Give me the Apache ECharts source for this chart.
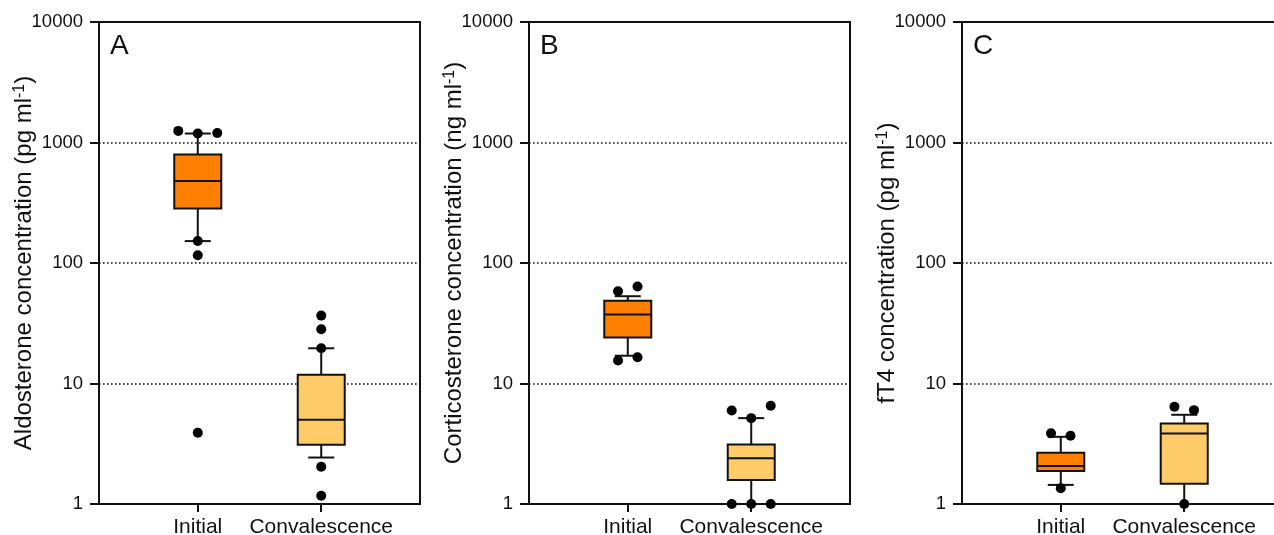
<!DOCTYPE html>
<html>
<head>
<meta charset="utf-8">
<script src="https://cdn.jsdelivr.net/npm/echarts@6/dist/echarts.min.js"></script>
<style>
html,body{margin:0;padding:0;background:#fff;}
#chart{width:1274px;height:535px;}
</style>
</head>
<body>
<div id="chart"></div>
<script>
// ---------- data ----------
const categories = ['Initial', 'Convalescence'];
const panelLetters = ['A', 'B', 'C'];
const yAxisTitles = ['Aldosterone concentration (pg ml', 'Corticosterone concentration (ng ml', 'fT4 concentration (pg ml'];
const yUnitExponent = '-1';
const yTickValues = [1, 10, 100, 1000, 10000];

// box stats: [lower whisker, Q1, median, Q3, upper whisker]
const aldoInitialBox = [152, 283, 479, 794, 1187];
const aldoConvBox = [2.43, 3.1, 5.0, 11.8, 19.6];
const cortInitialBox = [17.0, 24.1, 37.3, 48.5, 53];
const cortConvBox = [1.0, 1.58, 2.4, 3.11, 5.16];
const ft4InitialBox = [1.44, 1.88, 2.07, 2.66, 3.61];
const ft4ConvBox = [1.0, 1.47, 3.84, 4.65, 5.5];

// individual points shown (outside / at whiskers)
const aldoInitialPoints = [1248, 1187, 1200, 152, 116, 3.9];
const aldoConvPoints = [36.6, 28.2, 19.6, 2.04, 1.17];
const cortInitialPoints = [58.3, 63.8, 15.5, 16.5];
const cortConvPoints = [5.97, 5.16, 6.53, 1, 1, 1];
const ft4InitialPoints = [3.87, 3.68, 1.35];
const ft4ConvPoints = [6.41, 6.01, 1];

// ---------- styling ----------
const boxColors = ['#FF8000', '#FDCC69'];
const ink = '#111111';
const FONT = 'Liberation Sans, Arial, Helvetica, sans-serif';
const panelLefts = [99, 529, 962];
const panelWidth = 321;
const gridTop = 22;
const gridHeight = 482;
const BOX_W = 47, CAP_W = 26, DOT = 10, SWARM_STEP = 19.5;

const panels = [
  {boxes: [aldoInitialBox, aldoConvBox], points: [aldoInitialPoints, aldoConvPoints]},
  {boxes: [cortInitialBox, cortConvBox], points: [cortInitialPoints, cortConvPoints]},
  {boxes: [ft4InitialBox, ft4ConvBox], points: [ft4InitialPoints, ft4ConvPoints]}
];

// simple beeswarm: points of one category whose values are close (in log space) are spread sideways
function swarm(values, catPos) {
  const idx = values.map((v, i) => i).sort((a, b) => values[a] - values[b]);
  const groups = [];
  let cur = [];
  idx.forEach(i => {
    if (cur.length && Math.log10(values[i]) - Math.log10(values[cur[cur.length - 1]]) > 0.07) {
      groups.push(cur); cur = [];
    }
    cur.push(i);
  });
  if (cur.length) groups.push(cur);
  const out = [];
  groups.forEach(g => {
    const ordered = g.slice().sort((a, b) => a - b);
    ordered.forEach((i, k) => {
      out.push({value: [catPos, values[i]], symbolOffset: [(k - (ordered.length - 1) / 2) * SWARM_STEP, 0]});
    });
  });
  return out;
}

function renderBox(params, api) {
  const c = api.value(0);
  const lo = api.coord([c, api.value(1)]);
  const q1 = api.coord([c, api.value(2)]);
  const md = api.coord([c, api.value(3)]);
  const q3 = api.coord([c, api.value(4)]);
  const hi = api.coord([c, api.value(5)]);
  const x = lo[0];
  const ls = {stroke: ink, lineWidth: 2};
  return {
    type: 'group',
    children: [
      {type: 'line', shape: {x1: x, y1: hi[1], x2: x, y2: q3[1]}, style: ls},
      {type: 'line', shape: {x1: x, y1: q1[1], x2: x, y2: lo[1]}, style: ls},
      {type: 'line', shape: {x1: x - CAP_W / 2, y1: hi[1], x2: x + CAP_W / 2, y2: hi[1]}, style: ls},
      {type: 'line', shape: {x1: x - CAP_W / 2, y1: lo[1], x2: x + CAP_W / 2, y2: lo[1]}, style: ls},
      {type: 'rect', shape: {x: x - BOX_W / 2, y: q3[1], width: BOX_W, height: q1[1] - q3[1]},
        style: {fill: boxColors[c - 1], stroke: ink, lineWidth: 2}},
      {type: 'line', shape: {x1: x - BOX_W / 2, y1: md[1], x2: x + BOX_W / 2, y2: md[1]}, style: ls}
    ]
  };
}

const grid = [], xAxis = [], yAxis = [], series = [], title = [];
panels.forEach((p, i) => {
  grid.push({left: panelLefts[i], top: gridTop, width: panelWidth, height: gridHeight,
    outerBoundsMode: 'none', containLabel: false,
    show: true, borderColor: ink, borderWidth: 2, backgroundColor: 'transparent'});
  xAxis.push({
    type: 'value', gridIndex: i, min: 0.2, max: 2.8,
    axisLine: {show: true, lineStyle: {color: ink, width: 2}},
    axisTick: {show: true, length: 8, lineStyle: {color: ink, width: 2}, customValues: [1, 2]},
    axisLabel: {show: true, customValues: [1, 2], margin: 13, fontSize: 21, color: ink, fontFamily: FONT,
      formatter: v => categories[Math.round(v) - 1] || ''},
    splitLine: {show: false}
  });
  yAxis.push({
    type: 'log', logBase: 10, gridIndex: i, min: yTickValues[0], max: yTickValues[yTickValues.length - 1],
    name: yAxisTitles[i] + '{sup|' + yUnitExponent + '})',
    nameLocation: 'middle', nameGap: 63, nameMoveOverlap: false,
    nameTextStyle: {fontSize: 24, color: ink, fontFamily: FONT,
      rich: {sup: {fontSize: 16, verticalAlign: 'top', color: ink, fontFamily: FONT}}},
    axisLine: {show: true, lineStyle: {color: ink, width: 2}},
    axisTick: {show: true, length: 9, lineStyle: {color: ink, width: 2}},
    minorTick: {show: false},
    axisLabel: {fontSize: 18.5, color: ink, fontFamily: FONT, margin: 16, formatter: v => String(Math.round(v))},
    splitLine: {show: true, lineStyle: {color: ink, width: 1.6, type: [1.6, 2.4]}}
  });
  title.push({text: panelLetters[i], left: panelLefts[i] + 6, top: gridTop + 5,
    textStyle: {fontSize: 28, fontWeight: 'normal', color: ink, fontFamily: FONT}});
  series.push({
    type: 'custom', xAxisIndex: i, yAxisIndex: i, z: 3,
    renderItem: renderBox,
    data: p.boxes.map((b, k) => [k + 1].concat(b))
  });
  let pts = [];
  p.points.forEach((vals, k) => { pts = pts.concat(swarm(vals, k + 1)); });
  series.push({
    type: 'scatter', xAxisIndex: i, yAxisIndex: i, z: 4,
    symbol: 'circle', symbolSize: DOT, itemStyle: {color: '#000', opacity: 1},
    clip: false, silent: true,
    data: pts
  });
});

const chart = echarts.init(document.getElementById('chart'), null, {renderer: 'canvas'});
chart.setOption({
  animation: false,
  backgroundColor: '#fff',
  title: title,
  grid: grid,
  xAxis: xAxis,
  yAxis: yAxis,
  series: series
});
</script>
</body>
</html>
